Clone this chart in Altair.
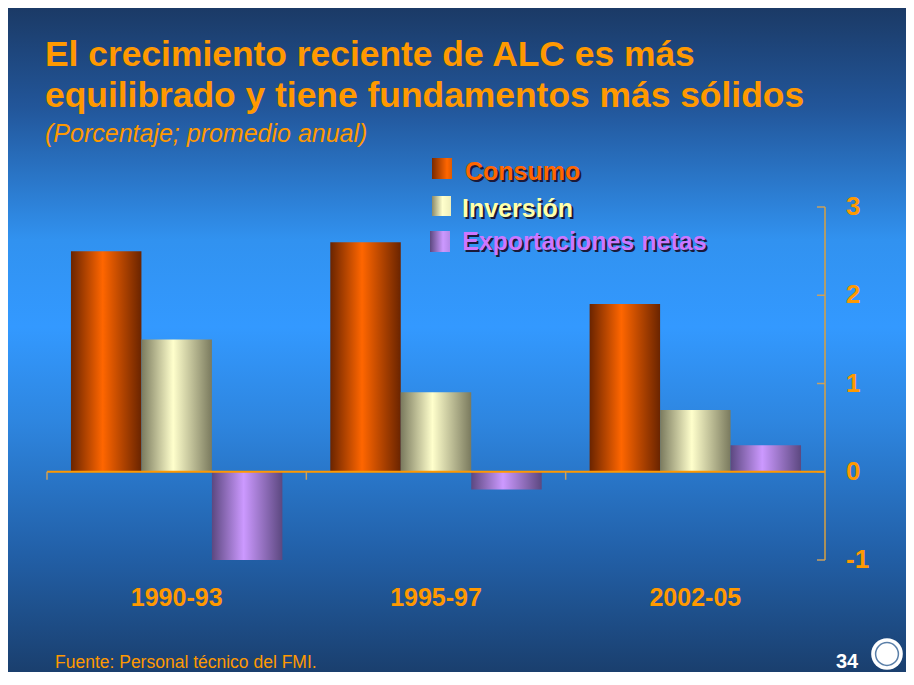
import altair as alt
import pandas as pd

# ---------------- data ----------------
periods = ["1990-93", "1995-97", "2002-05"]
series = ["Consumo", "Inversión", "Exportaciones netas"]
consumo = [2.5, 2.6, 1.9]
inversion = [1.5, 0.9, 0.7]
exportaciones = [-1.0, -0.2, 0.3]
y_ticks = [-1, 0, 1, 2, 3]

title_lines = ["El crecimiento reciente de ALC es más",
               "equilibrado y tiene fundamentos más sólidos"]
subtitle = "(Porcentaje; promedio anual)"
source_note = "Fuente: Personal técnico del FMI."
page_number = "34"

# ---------------- layout / style ----------------
W, H = 778, 353
PAD = {"left": 39, "top": 199, "right": 81, "bottom": 112}
ORANGE = "#ff9900"
FONT = "Liberation Sans"


def hgrad(stops):
    return {"gradient": "linear", "x1": 0, "x2": 1, "y1": 0, "y2": 0,
            "stops": [{"offset": o, "color": c} for o, c in stops]}


def vgrad(stops):
    return {"gradient": "linear", "x1": 0, "x2": 0, "y1": 0, "y2": 1,
            "stops": [{"offset": o, "color": c} for o, c in stops]}


bar_fills = {
    "Consumo": hgrad([(0, "#6a2400"), (0.45, "#ff6600"), (1, "#6a2400")]),
    "Inversión": hgrad([(0, "#7a7a5e"), (0.45, "#ffffcc"), (1, "#7a7a5e")]),
    "Exportaciones netas": hgrad([(0, "#5c4880"), (0.45, "#cc99ff"), (1, "#5c4880")]),
}
legend_fills = {
    "Consumo": hgrad([(0, "#7a2a00"), (0.75, "#ff6600"), (1, "#e05a00")]),
    "Inversión": hgrad([(0, "#8a8a6a"), (0.55, "#ffffcc"), (1, "#eeeebb")]),
    "Exportaciones netas": hgrad([(0, "#5c4880"), (0.65, "#cc99ff"), (1, "#b588e8")]),
}
legend_text_colors = {
    "Consumo": "#ff6600",
    "Inversión": "#ffffaa",
    "Exportaciones netas": "#cc77ff",
}
# legend placement (plot coordinates): square x, x2, y, y2, text x, text baseline
legend_pos = {
    "Consumo": (385, 405, -49, -28, 418, -27),
    "Inversión": (385, 404, -11, 9, 415, 10),
    "Exportaciones netas": (383, 403, 24, 45, 415, 43),
}

bg_fill = vgrad([
    (0.0, "#1b3a66"),
    (0.15, "#22569a"),
    (0.35, "#3192f0"),
    (0.48, "#3399ff"),
    (0.62, "#2e86e0"),
    (0.82, "#2260a8"),
    (1.0, "#1a3f6e"),
])

# ---------------- table ----------------
rows = []
for i, p in enumerate(periods):
    rows.append({"period": p, "series": series[0], "value": consumo[i]})
    rows.append({"period": p, "series": series[1], "value": inversion[i]})
    rows.append({"period": p, "series": series[2], "value": exportaciones[i]})
df = pd.DataFrame(rows)

one = pd.DataFrame({"a": [0]})
tick_df = pd.DataFrame({"t": y_ticks, "label": [str(t) for t in y_ticks]})
period_df = pd.DataFrame({"period": periods})
span_df = pd.DataFrame({"top": [max(y_ticks)], "bottom": [min(y_ticks)]})
zero_df = pd.DataFrame({"z": [0]})

# ---------------- encodings ----------------
x_scale = alt.Scale(domain=periods, paddingInner=0, paddingOuter=0)
x_enc = alt.X("period:N", sort=periods, scale=x_scale, axis=None)
xoff_enc = alt.XOffset(
    "series:N", sort=series,
    scale=alt.Scale(domain=series, paddingInner=0, paddingOuter=0.34),
)
y_scale = alt.Scale(domain=[-1, 3], nice=False, zero=False)
y_enc = alt.Y("value:Q", scale=y_scale, axis=None)

layers = []

# background slide
layers.append(
    alt.Chart(one).mark_rect(fill=bg_fill).encode(
        x=alt.value(-PAD["left"]), x2=alt.value(W + PAD["right"]),
        y=alt.value(-PAD["top"]), y2=alt.value(H + PAD["bottom"]))
)

# bars
for s in series:
    layers.append(
        alt.Chart(df).transform_filter(alt.datum.series == s)
        .mark_bar(fill=bar_fills[s], strokeWidth=0)
        .encode(x=x_enc, xOffset=xoff_enc, y=y_enc, y2=alt.datum(0))
    )

# right value axis: domain line
layers.append(
    alt.Chart(span_df).mark_rule(color="#d9a040", strokeWidth=1.5)
    .encode(x=alt.value(W), y=alt.Y("top:Q", scale=y_scale, axis=None),
            y2="bottom:Q")
)
# y ticks pointing inward
layers.append(
    alt.Chart(tick_df).mark_rule(color="#c8a060", strokeWidth=1.5)
    .encode(y=alt.Y("t:Q", scale=y_scale, axis=None),
            x=alt.value(W - 8), x2=alt.value(W))
)
# y tick labels
layers.append(
    alt.Chart(tick_df).mark_text(font=FONT, fontSize=26, fontWeight="bold",
                                 color=ORANGE, align="left", baseline="middle")
    .encode(y=alt.Y("t:Q", scale=y_scale, axis=None), x=alt.value(W + 21),
            text="label:N")
)
# zero line
layers.append(
    alt.Chart(zero_df).mark_rule(color=ORANGE, strokeWidth=2)
    .encode(y=alt.Y("z:Q", scale=y_scale, axis=None))
)
# category separator ticks on the zero line
layers.append(
    alt.Chart(period_df).mark_rule(color="#c8a060", strokeWidth=1.5)
    .encode(x=alt.X("period:N", sort=periods, scale=x_scale, bandPosition=0, axis=None),
            y=alt.value(H * 0.75), y2=alt.value(H * 0.75 + 8))
)
# category labels
layers.append(
    alt.Chart(period_df).mark_text(font=FONT, fontSize=25, fontWeight="bold",
                                   color=ORANGE, align="center", baseline="middle")
    .encode(x=alt.X("period:N", sort=periods, scale=x_scale, bandPosition=0.5, axis=None),
            y=alt.value(H + 38), text="period:N")
)


def text_layer(txt, x, y, size, color, weight="normal", style="normal",
               align="left", baseline="alphabetic", dx=0, dy=0):
    return alt.Chart(one).mark_text(
        text=txt, font=FONT, fontSize=size, fontWeight=weight, fontStyle=style,
        color=color, align=align, baseline=baseline, dx=dx, dy=dy,
    ).encode(x=alt.value(x), y=alt.value(y))


# title / subtitle
layers.append(text_layer(title_lines[0], -2, -141, 35.4, ORANGE, weight="bold"))
layers.append(text_layer(title_lines[1], -2, -100, 35.4, ORANGE, weight="bold"))
layers.append(text_layer(subtitle, -2, -65, 25, ORANGE, style="italic"))

# legend
for s in series:
    sx, sx2, sy, sy2, tx, ty = legend_pos[s]
    layers.append(
        alt.Chart(one).mark_rect(fill=legend_fills[s]).encode(
            x=alt.value(sx), x2=alt.value(sx2), y=alt.value(sy), y2=alt.value(sy2))
    )
    layers.append(text_layer(s, tx, ty, 25, "#1a1a3a", weight="bold", dx=2, dy=2))
    layers.append(text_layer(s, tx, ty, 25, legend_text_colors[s], weight="bold"))

# footer
layers.append(text_layer(source_note, 8, 461, 17.5, ORANGE))
layers.append(text_layer(page_number, 789, 461, 20, "white", weight="bold"))
layers.append(
    alt.Chart(one).mark_point(filled=True, shape="circle", size=1000,
                              color="white", opacity=1)
    .encode(x=alt.value(840), y=alt.value(447))
)
layers.append(
    alt.Chart(one).mark_point(filled=False, shape="circle", size=520,
                              color="#5a7fa8", strokeWidth=1.5, opacity=1)
    .encode(x=alt.value(840), y=alt.value(447))
)

chart = (
    alt.layer(*layers)
    .properties(width=W, height=H, padding=PAD,
                autosize=alt.AutoSizeParams(type="none"))
    .configure_view(stroke=None)
    .configure(background="white")
)

chart.save("out.html", embed_options={"renderer": "svg", "actions": False})
